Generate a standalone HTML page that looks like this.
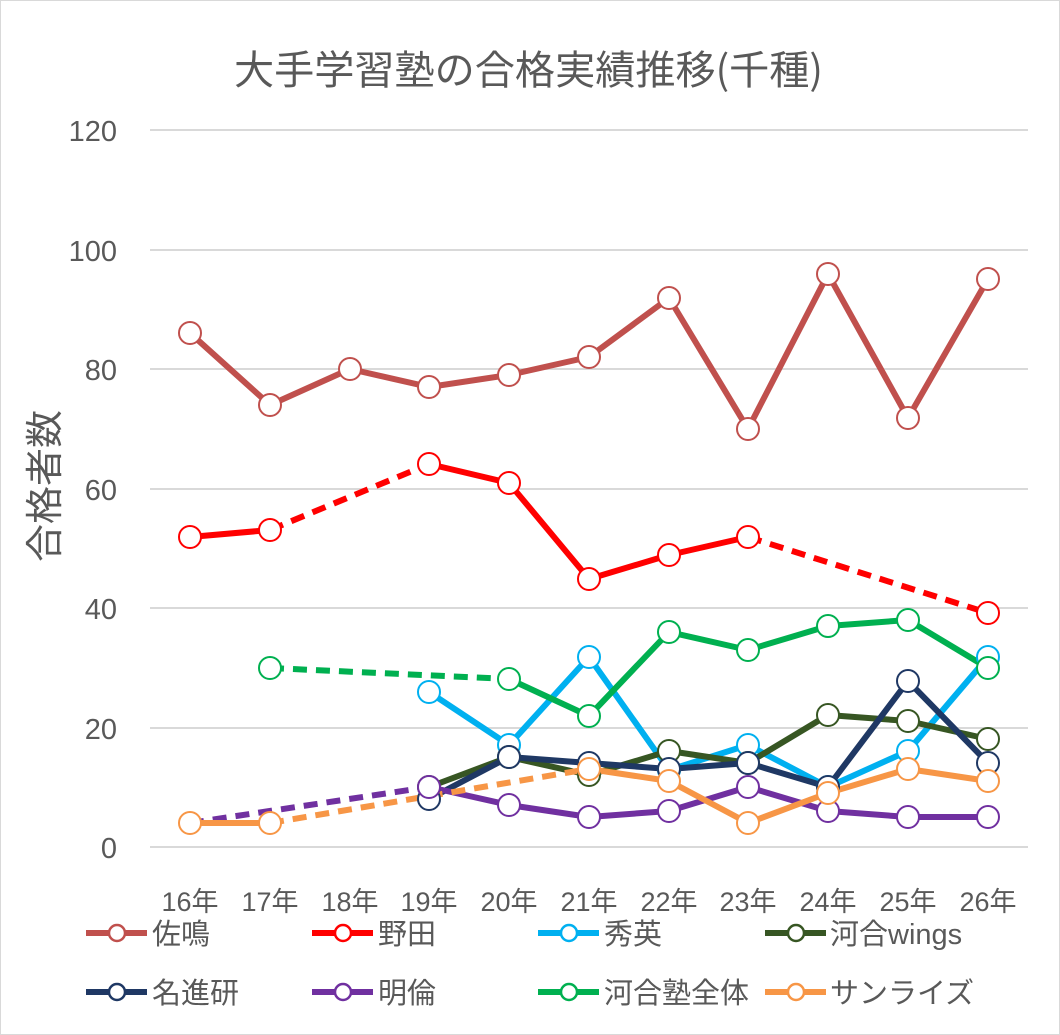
<!DOCTYPE html>
<html><head><meta charset="utf-8"><style>
body{margin:0;background:#fff}
svg{display:block}
text{font-family:"Liberation Sans","Noto Sans CJK JP",sans-serif;fill:#595959}
.j{font-family:"Noto Sans CJK JP","Liberation Sans",sans-serif}
</style></head><body>
<svg width="1060" height="1035" viewBox="0 0 1060 1035" xmlns="http://www.w3.org/2000/svg">
<rect x="0.5" y="0.5" width="1059" height="1034" fill="#fff" stroke="#d9d9d9"/>
<text class="j" x="234" y="84" font-size="40" textLength="589" lengthAdjust="spacingAndGlyphs">大手学習塾の合格実績推移(千種)</text>
<g stroke="#d9d9d9" stroke-width="2">
<line x1="150" y1="130" x2="1028" y2="130"/><line x1="150" y1="250" x2="1028" y2="250"/>
<line x1="150" y1="369" x2="1028" y2="369"/><line x1="150" y1="489" x2="1028" y2="489"/>
<line x1="150" y1="608" x2="1028" y2="608"/><line x1="150" y1="728" x2="1028" y2="728"/>
<line x1="150" y1="847" x2="1028" y2="847"/>
</g>
<g font-size="29" text-anchor="end">
<text x="117" y="141">120</text><text x="117" y="261">100</text><text x="117" y="380">80</text>
<text x="117" y="500">60</text><text x="117" y="619">40</text><text x="117" y="739">20</text><text x="117" y="858">0</text>
</g>
<text class="j" transform="translate(58,486) rotate(-90)" font-size="38" text-anchor="middle">合格者数</text>
<g class="j" font-size="27" text-anchor="middle">
<text x="190" y="911">16年</text><text x="270" y="911">17年</text><text x="350" y="911">18年</text>
<text x="429" y="911">19年</text><text x="509" y="911">20年</text><text x="589" y="911">21年</text>
<text x="669" y="911">22年</text><text x="748" y="911">23年</text><text x="828" y="911">24年</text>
<text x="908" y="911">25年</text><text x="988" y="911">26年</text>
</g>
<g fill="none" stroke-width="6" stroke-linejoin="round">
<polyline stroke="#c0504d" points="190,333 270,405 350,369 429,387 509,375 589,357 669,298 748,429 828,274 908,418 988,279"/>
<polyline stroke="#ff0000" points="190,537 270,530"/>
<polyline stroke="#ff0000" stroke-dasharray="14,9" points="270,530 429,464"/>
<polyline stroke="#ff0000" points="429,464 509,483 589,579 669,555 748,537"/>
<polyline stroke="#ff0000" stroke-dasharray="14,9" points="748,537 988,613"/>
<polyline stroke="#00b0f0" points="429,692 509,745 589,657 669,770 748,745 828,787 908,751 988,657"/>
<polyline stroke="#375623" points="429,787 509,757 589,775 669,751 748,763 828,715 908,721 988,739"/>
<polyline stroke="#1f3864" points="429,799 509,757 589,763 669,769 748,763 828,787 908,681 988,763"/>
<polyline stroke="#7030a0" stroke-dasharray="14,9" points="190,823 429,787"/>
<polyline stroke="#7030a0" points="429,787 509,805 589,817 669,811 748,787 828,811 908,817 988,817"/>
<polyline stroke="#00b050" stroke-dasharray="14,9" points="270,668 509,679"/>
<polyline stroke="#00b050" points="509,679 589,716 669,632 748,650 828,626 908,620 988,668"/>
<polyline stroke="#f79646" points="190,823 270,823"/>
<polyline stroke="#f79646" stroke-dasharray="14,9" points="270,823 589,769"/>
<polyline stroke="#f79646" points="589,769 669,781 748,823 828,793 908,769 988,781"/>
</g>
<g fill="#fff" stroke-width="2">
<g stroke="#c0504d"><circle cx="190" cy="333" r="11"/><circle cx="270" cy="405" r="11"/><circle cx="350" cy="369" r="11"/><circle cx="429" cy="387" r="11"/><circle cx="509" cy="375" r="11"/><circle cx="589" cy="357" r="11"/><circle cx="669" cy="298" r="11"/><circle cx="748" cy="429" r="11"/><circle cx="828" cy="274" r="11"/><circle cx="908" cy="418" r="11"/><circle cx="988" cy="279" r="11"/></g>
<g stroke="#ff0000"><circle cx="190" cy="537" r="11"/><circle cx="270" cy="530" r="11"/><circle cx="429" cy="464" r="11"/><circle cx="509" cy="483" r="11"/><circle cx="589" cy="579" r="11"/><circle cx="669" cy="555" r="11"/><circle cx="748" cy="537" r="11"/><circle cx="988" cy="613" r="11"/></g>
<g stroke="#00b0f0"><circle cx="429" cy="692" r="11"/><circle cx="509" cy="745" r="11"/><circle cx="589" cy="657" r="11"/><circle cx="669" cy="770" r="11"/><circle cx="748" cy="745" r="11"/><circle cx="828" cy="787" r="11"/><circle cx="908" cy="751" r="11"/><circle cx="988" cy="657" r="11"/></g>
<g stroke="#375623"><circle cx="429" cy="787" r="11"/><circle cx="509" cy="757" r="11"/><circle cx="589" cy="775" r="11"/><circle cx="669" cy="751" r="11"/><circle cx="748" cy="763" r="11"/><circle cx="828" cy="715" r="11"/><circle cx="908" cy="721" r="11"/><circle cx="988" cy="739" r="11"/></g>
<g stroke="#1f3864"><circle cx="429" cy="799" r="11"/><circle cx="509" cy="757" r="11"/><circle cx="589" cy="763" r="11"/><circle cx="669" cy="769" r="11"/><circle cx="748" cy="763" r="11"/><circle cx="828" cy="787" r="11"/><circle cx="908" cy="681" r="11"/><circle cx="988" cy="763" r="11"/></g>
<g stroke="#7030a0"><circle cx="429" cy="787" r="11"/><circle cx="509" cy="805" r="11"/><circle cx="589" cy="817" r="11"/><circle cx="669" cy="811" r="11"/><circle cx="748" cy="787" r="11"/><circle cx="828" cy="811" r="11"/><circle cx="908" cy="817" r="11"/><circle cx="988" cy="817" r="11"/></g>
<g stroke="#00b050"><circle cx="270" cy="668" r="11"/><circle cx="509" cy="679" r="11"/><circle cx="589" cy="716" r="11"/><circle cx="669" cy="632" r="11"/><circle cx="748" cy="650" r="11"/><circle cx="828" cy="626" r="11"/><circle cx="908" cy="620" r="11"/><circle cx="988" cy="668" r="11"/></g>
<g stroke="#f79646"><circle cx="190" cy="823" r="11"/><circle cx="270" cy="823" r="11"/><circle cx="589" cy="769" r="11"/><circle cx="669" cy="781" r="11"/><circle cx="748" cy="823" r="11"/><circle cx="828" cy="793" r="11"/><circle cx="908" cy="769" r="11"/><circle cx="988" cy="781" r="11"/></g>
</g>
<g stroke-width="6">
<line x1="86" y1="933" x2="147" y2="933" stroke="#c0504d"/>
<line x1="312" y1="933" x2="373" y2="933" stroke="#ff0000"/>
<line x1="538" y1="933" x2="599" y2="933" stroke="#00b0f0"/>
<line x1="765" y1="933" x2="826" y2="933" stroke="#375623"/>
<line x1="86" y1="992" x2="147" y2="992" stroke="#1f3864"/>
<line x1="312" y1="992" x2="373" y2="992" stroke="#7030a0"/>
<line x1="538" y1="992" x2="599" y2="992" stroke="#00b050"/>
<line x1="765" y1="992" x2="826" y2="992" stroke="#f79646"/>
</g>
<g fill="#fff" stroke-width="2.5">
<circle cx="117" cy="933" r="8" stroke="#c0504d"/><circle cx="343" cy="933" r="8" stroke="#ff0000"/>
<circle cx="569" cy="933" r="8" stroke="#00b0f0"/><circle cx="796" cy="933" r="8" stroke="#375623"/>
<circle cx="117" cy="992" r="8" stroke="#1f3864"/><circle cx="343" cy="992" r="8" stroke="#7030a0"/>
<circle cx="569" cy="992" r="8" stroke="#00b050"/><circle cx="796" cy="992" r="8" stroke="#f79646"/>
</g>
<g class="j" font-size="29">
<text x="152" y="944">佐鳴</text><text x="378" y="944">野田</text><text x="604" y="944">秀英</text><text x="830" y="944">河合wings</text>
<text x="152" y="1003">名進研</text><text x="378" y="1003">明倫</text><text x="604" y="1003">河合塾全体</text><text x="830" y="1003">サンライズ</text>
</g>
</svg>
</body></html>
